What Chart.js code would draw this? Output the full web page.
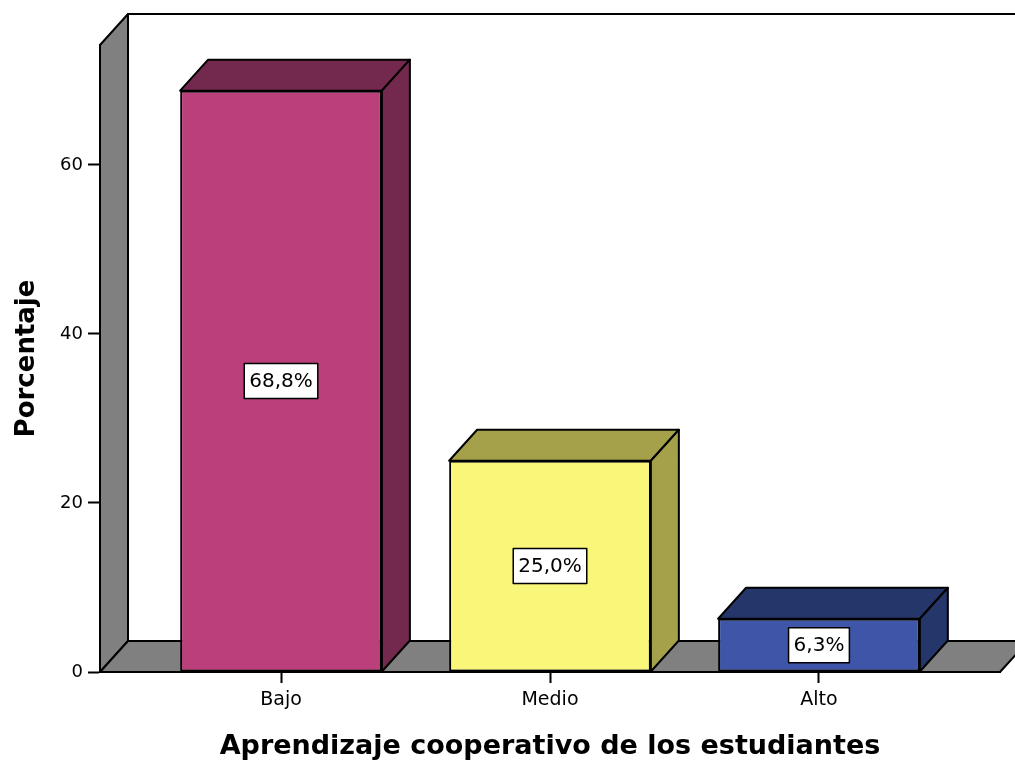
<!DOCTYPE html>
<html>
<head>
<meta charset="utf-8">
<title>Aprendizaje cooperativo de los estudiantes</title>
<script src="https://cdn.jsdelivr.net/npm/chart.js@4.4.1/dist/chart.umd.min.js"></script>
<style>
    html, body { margin: 0; padding: 0; background: #fff; }
    #chartBox { width: 1015px; height: 762px; }
</style>
</head>
<body>
<div id="chartBox"><canvas id="barCanvas"></canvas></div>
<script>
/* ===== DATOS ===== */
const categories = ['Bajo', 'Medio', 'Alto'];
const percentages = [68.8, 25.0, 6.3];
const yTitle = 'Porcentaje';
const xTitle = 'Aprendizaje cooperativo de los estudiantes';

/* ===== ESTILO ===== */
const frontColors = ['#BA3F7B', '#F9F67A', '#3F56A8'];
const shadeColors = ['#72294D', '#A4A14A', '#25366B'];
const WALL = '#808080';
const DX = 28;   // profundidad 3D horizontal
const DY = 31;   // profundidad 3D vertical
const FONT = 'DejaVu Sans';

// Dibuja un polígono relleno con borde
function poly(ctx, pts, fill) {
    ctx.beginPath();
    ctx.moveTo(pts[0][0], pts[0][1]);
    for (let i = 1; i < pts.length; i++) ctx.lineTo(pts[i][0], pts[i][1]);
    ctx.closePath();
    ctx.fillStyle = fill;
    ctx.fill();
    ctx.stroke();
}

// Paredes, suelo y caras 3D de las barras
const box3d = {
    id: 'box3d',
    beforeDatasetsDraw(chart) {
        const { ctx, chartArea: a, scales: { y } } = chart;
        const base = y.getPixelForValue(0);
        ctx.save();
        ctx.strokeStyle = '#000';
        ctx.lineWidth = 2;
        ctx.lineJoin = 'round';
        // pared del fondo
        poly(ctx, [[a.left + DX, a.top - DY], [chart.width + DX, a.top - DY],
                   [chart.width + DX, base - DY], [a.left + DX, base - DY]], '#fff');
        // pared izquierda
        poly(ctx, [[a.left, a.top], [a.left + DX, a.top - DY],
                   [a.left + DX, base - DY], [a.left, base]], WALL);
        // suelo
        poly(ctx, [[a.left, base], [a.left + DX, base - DY],
                   [a.right + DX, base - DY], [a.right, base]], WALL);
        ctx.restore();
    },
    afterDatasetsDraw(chart) {
        const { ctx } = chart;
        const meta = chart.getDatasetMeta(0);
        ctx.save();
        ctx.strokeStyle = '#000';
        ctx.lineWidth = 2;
        ctx.lineJoin = 'round';
        meta.data.forEach((bar, i) => {
            const { x, y, base, width } = bar.getProps(['x', 'y', 'base', 'width'], true);
            const l = x - width / 2, r = x + width / 2;
            poly(ctx, [[l, y], [l + DX, y - DY], [r + DX, y - DY], [r, y]], shadeColors[i]);
            poly(ctx, [[r, y], [r + DX, y - DY], [r + DX, base - DY], [r, base]], shadeColors[i]);
        });

        // etiquetas de porcentaje
        ctx.font = '20px "' + FONT + '"';
        ctx.textAlign = 'center';
        ctx.textBaseline = 'middle';
        ctx.lineWidth = 1.5;
        meta.data.forEach((bar, i) => {
            const { x, y, base } = bar.getProps(['x', 'y', 'base'], true);
            const text = percentages[i].toFixed(1).replace('.', ',') + '%';
            const w = ctx.measureText(text).width + 10;
            const h = 35;
            const cy = (y + base) / 2;
            ctx.fillStyle = '#fff';
            ctx.fillRect(x - w / 2, cy - h / 2, w, h);
            ctx.strokeRect(x - w / 2, cy - h / 2, w, h);
            ctx.fillStyle = '#000';
            ctx.fillText(text, x, cy + 1);
        });
        ctx.restore();
    }
};

new Chart(document.getElementById('barCanvas'), {
    type: 'bar',
    data: {
        datasets: [{
            data: categories.map((c, i) => ({ x: i, y: percentages[i] })),
            backgroundColor: frontColors,
            borderColor: '#000',
            borderWidth: 2,
            borderSkipped: false,
            barPercentage: 0.75,
            categoryPercentage: 1
        }]
    },
    options: {
        responsive: true,
        maintainAspectRatio: false,
        animation: false,
        events: [],
        layout: { padding: { top: 45, right: 15, bottom: 0, left: 0 } },
        plugins: {
            legend: { display: false },
            tooltip: { enabled: false }
        },
        scales: {
            x: {
                type: 'linear',
                min: -0.673,
                max: 2.673,
                offset: false,
                afterBuildTicks: s => { s.ticks = categories.map((_, i) => ({ value: i })); },
                afterFit: s => { s.height = 90; },
                border: { display: true, color: '#000', width: 2 },
                grid: {
                    display: true, drawOnChartArea: false, offset: false,
                    color: '#000', tickColor: '#000', tickLength: 11, tickWidth: 2
                },
                ticks: {
                    callback: v => categories[v],
                    color: '#000',
                    font: { family: FONT, size: 19 },
                    padding: 6,
                    maxRotation: 0,
                    autoSkip: false
                },
                title: {
                    display: true,
                    text: xTitle,
                    color: '#000',
                    font: { family: FONT, size: 27, weight: 'bold', lineHeight: 1.1 },
                    padding: { top: 0, bottom: 0 }
                }
            },
            y: {
                min: 0,
                max: 74.2,
                afterFit: s => { s.width = 100; },
                border: { display: true, color: '#000', width: 2 },
                grid: {
                    display: true, drawOnChartArea: false,
                    color: '#000', tickColor: '#000', tickLength: 12, tickWidth: 2
                },
                ticks: {
                    stepSize: 20,
                    includeBounds: false,
                    color: '#000',
                    font: { family: FONT, size: 18 },
                    padding: 5
                },
                title: {
                    display: true,
                    text: yTitle,
                    color: '#000',
                    font: { family: FONT, size: 26, weight: 'bold', lineHeight: 1.2 },
                    padding: { top: 12, bottom: 0 }
                }
            }
        }
    },
    plugins: [box3d]
});
</script>
</body>
</html>
